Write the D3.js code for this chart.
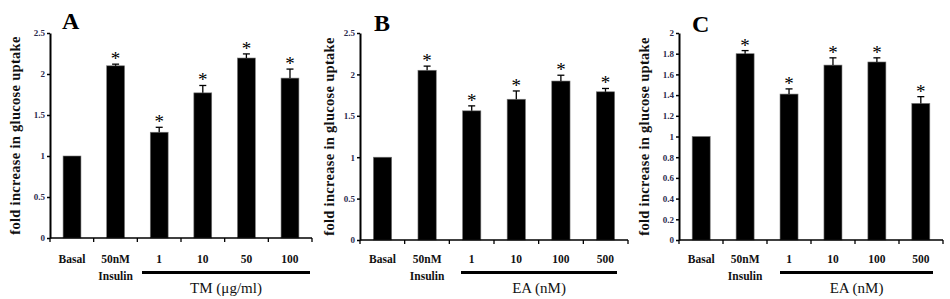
<!DOCTYPE html>
<html><head><meta charset="utf-8">
<script src="https://cdn.jsdelivr.net/npm/d3@7"></script>
<style>body{margin:0;background:#fff}svg{display:block}</style>
</head><body>
<svg id="chart" width="950" height="299"></svg>
<script>
// ---- data ----
const panelLetters = ["A", "B", "C"];
const categoriesA = ["Basal", "50nM|Insulin", "1", "10", "50", "100"];
const categoriesB = ["Basal", "50nM|Insulin", "1", "10", "100", "500"];
const categoriesC = ["Basal", "50nM|Insulin", "1", "10", "100", "500"];
const valuesA = [1.00, 2.10, 1.29, 1.77, 2.195, 1.95];
const errorsA = [0, 0.02, 0.06, 0.09, 0.05, 0.11];
const valuesB = [1.00, 2.05, 1.56, 1.70, 1.92, 1.79];
const errorsB = [0, 0.05, 0.06, 0.10, 0.07, 0.04];
const valuesC = [1.00, 1.80, 1.41, 1.69, 1.72, 1.32];
const errorsC = [0, 0.03, 0.05, 0.07, 0.04, 0.065];
const significantA = [false, true, true, true, true, true];
const significantB = [false, true, true, true, true, true];
const significantC = [false, true, true, true, true, true];
const yTicksA = [0, 0.5, 1, 1.5, 2, 2.5];
const yTicksB = [0, 0.5, 1, 1.5, 2, 2.5];
const yTicksC = [0, 0.2, 0.4, 0.6, 0.8, 1, 1.2, 1.4, 1.6, 1.8, 2];
const groupLabels = ["TM (μg/ml)", "EA (nM)", "EA (nM)"];
const yTitle = "fold increase in glucose uptake";

// ---- layout ----
const panels = [
  {letter: panelLetters[0], cats: categoriesA, vals: valuesA, errs: errorsA, sig: significantA, ticks: yTicksA, group: groupLabels[0],
   x0: 50, x1: 312, yBottom: 238, yTop: 33, titleX: 15, letterX: 62, letterY: 29, lineX0: 142, lineX1: 310},
  {letter: panelLetters[1], cats: categoriesB, vals: valuesB, errs: errorsB, sig: significantB, ticks: yTicksB, group: groupLabels[1],
   x0: 360, x1: 628, yBottom: 240, yTop: 33, titleX: 329, letterX: 374, letterY: 31, lineX0: 461, lineX1: 617},
  {letter: panelLetters[2], cats: categoriesC, vals: valuesC, errs: errorsC, sig: significantC, ticks: yTicksC, group: groupLabels[2],
   x0: 679, x1: 943, yBottom: 240, yTop: 33, titleX: 644, letterX: 692, letterY: 32, lineX0: 780, lineX1: 933}
];

const svg = d3.select("#chart");
const serif = "'Liberation Serif', 'DejaVu Serif', serif";

panels.forEach(p => {
  const g = svg.append("g");
  const maxY = p.ticks[p.ticks.length - 1];
  const y = d3.scaleLinear().domain([0, maxY]).range([p.yBottom, p.yTop]);
  const x = d3.scaleBand().domain(p.cats).range([p.x0, p.x1]).paddingInner(0.59).paddingOuter(0.3);
  const xb = d3.scaleBand().domain(p.cats).range([p.x0, p.x1]).padding(0);

  // bars
  g.selectAll("rect.bar").data(p.cats).join("rect")
    .attr("x", d => x(d)).attr("width", x.bandwidth())
    .attr("y", (d, i) => y(p.vals[i]))
    .attr("height", (d, i) => y(0) - y(p.vals[i]))
    .attr("fill", "#000").attr("stroke", "#777").attr("stroke-width", 0.6);

  // error bars (upper only)
  p.cats.forEach((c, i) => {
    if (!p.errs[i]) return;
    const cx = x(c) + x.bandwidth() / 2;
    const top = y(p.vals[i] + p.errs[i]);
    g.append("line").attr("x1", cx).attr("x2", cx).attr("y1", y(p.vals[i])).attr("y2", top)
      .attr("stroke", "#000").attr("stroke-width", 1.3);
    g.append("line").attr("x1", cx - 3.5).attr("x2", cx + 3.5).attr("y1", top).attr("y2", top)
      .attr("stroke", "#000").attr("stroke-width", 1.3);
    if (p.sig[i]) {
      g.append("text").attr("x", cx).attr("y", top + 1).attr("text-anchor", "middle")
        .attr("font-family", serif).attr("font-size", 19).attr("fill", "#000").text("*");
    }
  });

  // y axis
  const yAxis = d3.axisLeft(y).tickValues(p.ticks).tickSize(3).tickSizeOuter(0).tickFormat(d3.format("~g"));
  const ya = g.append("g").attr("transform", `translate(${p.x0},0)`).call(yAxis);
  ya.select(".domain").attr("stroke", "#000").attr("stroke-width", 2);
  ya.selectAll(".tick line").attr("stroke", "#000").attr("stroke-width", 1.5);
  ya.selectAll(".tick text").attr("font-family", serif).attr("font-size", 9).attr("font-weight", "bold")
    .attr("fill", "#2b2b4d").attr("x", -5);

  // x axis: boundary ticks
  const xa = g.append("g").attr("transform", `translate(0,${p.yBottom})`);
  xa.append("line").attr("x1", p.x0).attr("x2", p.x1).attr("y1", 0).attr("y2", 0)
    .attr("stroke", "#000").attr("stroke-width", 1.6);
  const bounds = p.cats.map(c => xb(c)).concat([p.x1]);
  xa.selectAll("line.tk").data(bounds).join("line").attr("class", "tk")
    .attr("x1", d => d).attr("x2", d => d).attr("y1", 0).attr("y2", 4)
    .attr("stroke", "#000").attr("stroke-width", 1.3);

  // category labels
  p.cats.forEach(c => {
    const cx = x(c) + x.bandwidth() / 2;
    const lines = c.split("|");
    lines.forEach((t, k) => {
      g.append("text").attr("x", cx).attr("y", 263 + k * 17).attr("text-anchor", "middle")
        .attr("font-family", serif).attr("font-weight", "bold").attr("font-size", 11.5)
        .attr("fill", "#111").text(t);
    });
  });

  // group underline and label
  g.append("line").attr("x1", p.lineX0).attr("x2", p.lineX1).attr("y1", 272.5).attr("y2", 272.5)
    .attr("stroke", "#000").attr("stroke-width", 3);
  g.append("text").attr("x", (p.lineX0 + p.lineX1) / 2).attr("y", 293).attr("text-anchor", "middle")
    .attr("font-family", serif).attr("font-size", 15).attr("fill", "#111").text(p.group);

  // y title
  g.append("text").attr("transform", `translate(${p.titleX},${(p.yTop + p.yBottom) / 2}) rotate(-90)`)
    .attr("text-anchor", "middle").attr("dominant-baseline", "central")
    .attr("font-family", serif).attr("font-weight", "bold").attr("font-size", 14.5)
    .attr("letter-spacing", 0.3)
    .attr("fill", "#111").text(yTitle);

  // panel letter
  g.append("text").attr("x", p.letterX).attr("y", p.letterY)
    .attr("font-family", serif).attr("font-weight", "bold").attr("font-size", 24)
    .attr("fill", "#000").text(p.letter);
});
</script>
</body></html>
